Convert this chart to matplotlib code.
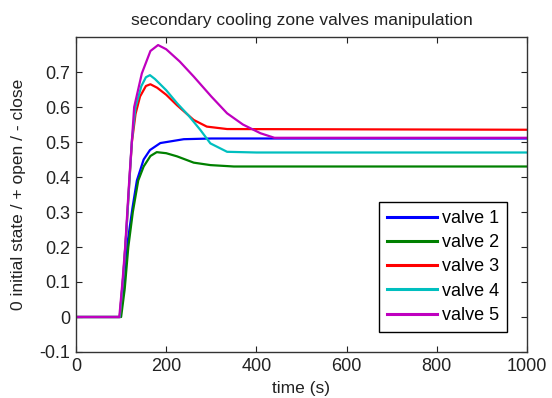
import matplotlib
matplotlib.use("Agg")
import matplotlib.pyplot as plt

plt.rcParams['font.family'] = ['Liberation Sans', 'DejaVu Sans']

# ---- data (time in s, valve manipulation) ----
t1 = [0, 98, 105, 113, 125, 135, 150, 164, 187, 239, 300, 1000]
v1 = [0, 0, 0.08, 0.20, 0.31, 0.39, 0.45, 0.477, 0.497, 0.508, 0.51, 0.51]

t2 = [0, 100, 108, 116, 126, 138, 150, 165, 179, 200, 224, 261, 298, 350, 1000]
v2 = [0, 0, 0.08, 0.20, 0.30, 0.39, 0.43, 0.46, 0.471, 0.468, 0.459, 0.441, 0.434, 0.43, 0.43]

t3 = [0, 97, 105, 112, 118, 124, 132, 142, 155, 165, 180, 200, 224, 261, 290, 335, 1000]
v3 = [0, 0, 0.12, 0.25, 0.38, 0.50, 0.58, 0.63, 0.66, 0.665, 0.655, 0.635, 0.605, 0.563, 0.544, 0.537, 0.535]

t4 = [0, 97, 105, 112, 118, 124, 132, 145, 155, 164, 175, 200, 224, 250, 276, 298, 335, 400, 1000]
v4 = [0, 0, 0.12, 0.25, 0.38, 0.506, 0.60, 0.66, 0.685, 0.691, 0.68, 0.648, 0.611, 0.575, 0.534, 0.496, 0.472, 0.47, 0.47]

t5 = [0, 96, 103, 109, 118, 129, 146, 165, 182, 200, 230, 261, 300, 335, 370, 409, 440, 1000]
v5 = [0, 0, 0.10, 0.20, 0.39, 0.60, 0.696, 0.76, 0.777, 0.765, 0.73, 0.687, 0.63, 0.582, 0.55, 0.525, 0.512, 0.512]

labels = ['valve 1', 'valve 2', 'valve 3', 'valve 4', 'valve 5']
colors = ['#0000ff', '#008000', '#ff0000', '#00bfbf', '#bf00bf']

xticks = [0, 200, 400, 600, 800, 1000]
yticks = [-0.1, 0, 0.1, 0.2, 0.3, 0.4, 0.5, 0.6, 0.7]
yticklabels = ['-0.1', '0', '0.1', '0.2', '0.3', '0.4', '0.5', '0.6', '0.7']

fig = plt.figure(figsize=(5.52, 3.98), dpi=100)
ax = fig.add_axes([76/552, 1-352/398, 451/552, 315/398])

for t, v, c, l in zip([t1, t2, t3, t4, t5], [v1, v2, v3, v4, v5], colors, labels):
    ax.plot(t, v, color=c, lw=1.6, label=l)

ax.set_xlim(0, 1000)
ax.set_ylim(-0.1, 0.8)
ax.set_xticks(xticks)
ax.set_yticks(yticks)
ax.set_yticklabels(yticklabels)
ax.tick_params(direction='in', top=True, right=True, length=4, width=0.8,
               labelsize=13, colors='#222222', pad=4)
for s in ax.spines.values():
    s.set_color('#333333')
    s.set_linewidth(1.0)

ax.set_title('secondary cooling zone valves manipulation', fontsize=12.5, pad=9, color='#222222')
ax.set_xlabel('time (s)', fontsize=12.5, labelpad=5, color='#222222')
ax.set_ylabel('0 initial state / + open / - close', fontsize=12.5, labelpad=10, color='#222222')

leg = ax.legend(loc='lower right', bbox_to_anchor=(0.956, 0.0635), fontsize=13,
                fancybox=False, edgecolor='black', framealpha=1, handlelength=2.8,
                labelspacing=0.4, borderpad=0.45, handletextpad=0.25, borderaxespad=0)
leg.get_frame().set_linewidth(1.0)
for lh in leg.get_lines():
    lh.set_linewidth(2.2)

fig.savefig('out.png', dpi=100)
